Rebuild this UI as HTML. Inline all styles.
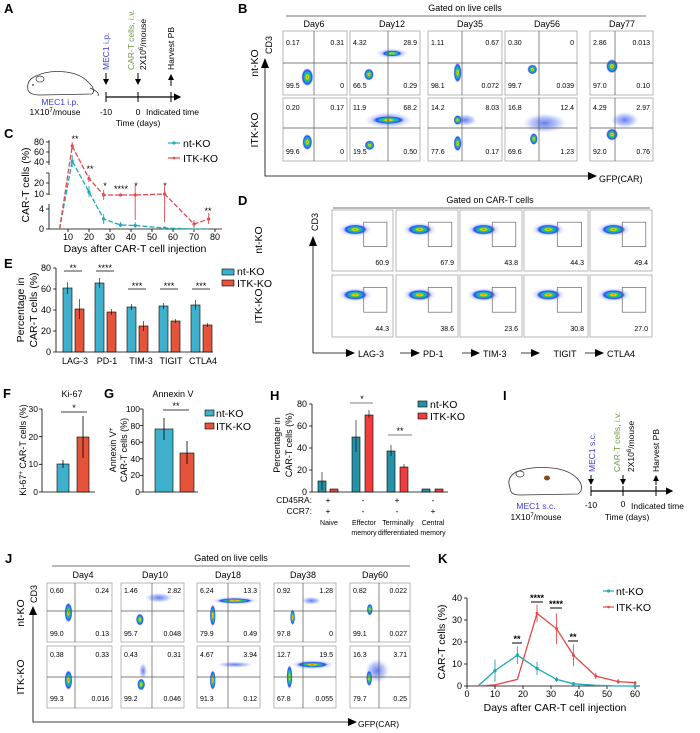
<!DOCTYPE html>
<html><head><meta charset="utf-8"><style>
html,body{margin:0;padding:0;background:#fff}
svg{display:block;font-family:"Liberation Sans",Arial,sans-serif}
.L{font-weight:bold;font-size:13px}
.n{font-size:7px}
.t{font-size:8.5px}
.s{font-size:9px}
.m{font-size:10.5px}
</style></head><body>
<svg id="sv" width="700" height="733" viewBox="0 0 700 733" xmlns="http://www.w3.org/2000/svg">
<defs>
<radialGradient id="bl"><stop offset="0" stop-color="#e83a00"/><stop offset=".18" stop-color="#f2e000"/><stop offset=".38" stop-color="#2fc24a"/><stop offset=".58" stop-color="#12a4e4"/><stop offset=".78" stop-color="#2a46f0"/><stop offset="1" stop-color="#8090ff" stop-opacity="0"/></radialGradient>
<radialGradient id="lb"><stop offset="0" stop-color="#3050e8" stop-opacity=".75"/><stop offset=".6" stop-color="#5a78f0" stop-opacity=".4"/><stop offset="1" stop-color="#a0b0ff" stop-opacity="0"/></radialGradient>
<marker id="ar" markerWidth="6" markerHeight="6" refX="5" refY="3" orient="auto"><path d="M0,0L6,3L0,6z" fill="#000"/></marker>
</defs>
<g id="shapes"></g>

<!-- A -->
<text class="L" x="4" y="13">A</text>
<path d="M28,90 Q26,80 36,76 Q48,70 66,72 Q82,74 90,84 Q96,90 92,94 L40,95 Q30,95 28,90Z M90,88 Q100,92 98,96" fill="none" stroke="#333" stroke-width="0.8"/>
<ellipse cx="40" cy="79" rx="4" ry="3" fill="none" stroke="#333" stroke-width=".7"/>
<circle cx="33" cy="85" r="0.9" fill="#333"/>
<text class="t" x="60" y="105" text-anchor="middle" fill="#3a3ae0">MEC1 i.p.</text>
<text class="t" x="55" y="115" text-anchor="middle">1X10<tspan font-size="6" dy="-3">7</tspan><tspan dy="3">/mouse</tspan></text>
<line x1="106" y1="97" x2="180" y2="97" stroke="#000" stroke-width="1.2" marker-end="url(#ar)"/>
<line x1="106" y1="92" x2="106" y2="102" stroke="#000"/><line x1="138" y1="92" x2="138" y2="102" stroke="#000"/><line x1="171" y1="92" x2="171" y2="102" stroke="#000"/>
<line x1="106" y1="73" x2="106" y2="84" stroke="#000" marker-end="url(#ar)"/>
<line x1="138" y1="73" x2="138" y2="84" stroke="#000" marker-end="url(#ar)"/>
<line x1="171" y1="86" x2="171" y2="75" stroke="#000" marker-end="url(#ar)"/>
<text class="t" transform="translate(109,70) rotate(-90)" fill="#3a3ae0">MEC1 i.p.</text>
<text class="t" transform="translate(134,70) rotate(-90)" fill="#6a9a40">CAR-T cells, i.v.</text>
<text class="t" transform="translate(146,70) rotate(-90)">2X10<tspan font-size="6" dy="-3">6</tspan><tspan dy="3">/mouse</tspan></text>
<text class="t" transform="translate(174,70) rotate(-90)">Harvest PB</text>
<text class="t" x="106" y="115" text-anchor="middle">-10</text>
<text class="t" x="138" y="115" text-anchor="middle">0</text>
<text class="t" x="146" y="115">Indicated time</text>
<text class="t" x="138" y="126" text-anchor="middle">Time (days)</text>

<!-- B -->
<text class="L" x="238" y="13">B</text>
<text class="s" x="465" y="11" text-anchor="middle">Gated on live cells</text>
<line x1="286" y1="16" x2="646" y2="16" stroke="#444" stroke-width=".7"/>
<text class="s" x="314" y="27" text-anchor="middle">Day6</text>
<text class="s" x="392" y="27" text-anchor="middle">Day12</text>
<text class="s" x="470" y="27" text-anchor="middle">Day35</text>
<text class="s" x="547" y="27" text-anchor="middle">Day56</text>
<text class="s" x="622" y="27" text-anchor="middle">Day77</text>
<text class="m" transform="translate(258,63) rotate(-90)" text-anchor="middle">nt-KO</text>
<text class="m" transform="translate(258,130) rotate(-90)" text-anchor="middle">ITK-KO</text>
<text class="s" transform="translate(272,45) rotate(-90)" text-anchor="middle">CD3</text>
<polyline points="265,62 265,176 590,176" fill="none" stroke="#000" stroke-width=".8"/>
<path d="M261,68 L265,58 L269,68z M588,172 L597,176 L588,180z" fill="#000"/>
<text class="s" x="599" y="182">GFP(CAR)</text>
<g class="n">
<text x="286" y="45">0.17</text><text x="344" y="45" text-anchor="end">0.31</text><text x="286" y="88">99.5</text><text x="344" y="88" text-anchor="end">0</text>
<text x="353" y="45">4.32</text><text x="417" y="45" text-anchor="end">28.9</text><text x="353" y="88">66.5</text><text x="417" y="88" text-anchor="end">0.29</text>
<text x="431" y="45">1.11</text><text x="499" y="45" text-anchor="end">0.67</text><text x="431" y="88">98.1</text><text x="499" y="88" text-anchor="end">0.072</text>
<text x="508" y="45">0.30</text><text x="574" y="45" text-anchor="end">0</text><text x="508" y="88">99.7</text><text x="574" y="88" text-anchor="end">0.039</text>
<text x="593" y="45">2.86</text><text x="650" y="45" text-anchor="end">0.013</text><text x="593" y="88">97.0</text><text x="650" y="88" text-anchor="end">0.10</text>
<text x="286" y="110">0.20</text><text x="344" y="110" text-anchor="end">0.17</text><text x="286" y="154">99.6</text><text x="344" y="154" text-anchor="end">0</text>
<text x="353" y="110">11.9</text><text x="417" y="110" text-anchor="end">68.2</text><text x="353" y="154">19.5</text><text x="417" y="154" text-anchor="end">0.50</text>
<text x="431" y="110">14.2</text><text x="499" y="110" text-anchor="end">8.03</text><text x="431" y="154">77.6</text><text x="499" y="154" text-anchor="end">0.17</text>
<text x="508" y="110">16.8</text><text x="574" y="110" text-anchor="end">12.4</text><text x="508" y="154">69.6</text><text x="574" y="154" text-anchor="end">1.23</text>
<text x="593" y="110">4.29</text><text x="650" y="110" text-anchor="end">2.97</text><text x="593" y="154">92.0</text><text x="650" y="154" text-anchor="end">0.76</text>
</g>

<!-- C -->
<text class="L" x="4" y="138">C</text>
<g stroke="#000" stroke-width=".8" fill="none">
<path d="M49,140V165 M46,142H49 M46,152H49 M46,162H49"/>
<path d="M49,173V195 M46,173H49 M46,183H49 M46,194H49"/>
<path d="M49,204V229 M46,209H49 M46,229H49"/>
<path d="M49,229H222 M68,229v3 M89,229v3 M110,229v3 M131,229v3 M152,229v3 M173,229v3 M194,229v3 M215,229v3"/>
</g>
<g class="s" text-anchor="end"><text x="44" y="145">80</text><text x="44" y="155">60</text><text x="44" y="165">40</text><text x="44" y="186">20</text><text x="44" y="197">10</text><text x="44" y="212">4</text><text x="44" y="232">0</text></g>
<g class="s" text-anchor="middle"><text x="68" y="240">10</text><text x="89" y="240">20</text><text x="110" y="240">30</text><text x="131" y="240">40</text><text x="152" y="240">50</text><text x="173" y="240">60</text><text x="194" y="240">70</text><text x="215" y="240">80</text></g>
<text class="m" transform="translate(29,185) rotate(-90)" text-anchor="middle">CAR-T cells (%)</text>
<text class="m" x="135" y="252" text-anchor="middle">Days after CAR-T cell injection</text>
<polyline points="59.6,229 72.2,161 89,192 103.7,219 120.5,225 135.2,225.5 164.6,228 194,229 208.7,229" fill="none" stroke="#22a7b8" stroke-width="1.3" stroke-dasharray="5,2"/>
<polyline points="59.6,229 72.2,146 89,178.6 103.7,195 120.5,195 135.2,195 164.6,194 194,224 208.7,219" fill="none" stroke="#e5474a" stroke-width="1.3" stroke-dasharray="5,2"/>
<g stroke="#22a7b8" stroke-width=".9"><path d="M72.2,155V167 M89,186V197 M103.7,214V224 M120.5,222V227 M135.2,222V228"/></g>
<g stroke="#e5474a" stroke-width=".9"><path d="M72.2,142V150 M89,175V182 M103.7,190V200 M135.2,185V220 M164.6,186V222 M194,220V228 M208.7,213V224"/></g>
<g fill="#22a7b8"><circle cx="72.2" cy="161" r="1.6"/><circle cx="89" cy="192" r="1.6"/><circle cx="103.7" cy="219" r="1.6"/><circle cx="120.5" cy="225" r="1.6"/><circle cx="135.2" cy="225.5" r="1.6"/><circle cx="164.6" cy="228" r="1.6"/></g>
<g fill="#e5474a"><circle cx="72.2" cy="146" r="1.6"/><circle cx="89" cy="178.6" r="1.6"/><circle cx="103.7" cy="195" r="1.6"/><circle cx="120.5" cy="195" r="1.6"/><circle cx="135.2" cy="195" r="1.6"/><circle cx="164.6" cy="194" r="1.6"/><circle cx="194" cy="224" r="1.6"/><circle cx="208.7" cy="219" r="1.6"/></g>
<g class="s" text-anchor="middle"><text x="75" y="142">**</text><text x="90" y="172">**</text><text x="105" y="189">*</text><text x="121" y="192">****</text><text x="136" y="189">*</text><text x="165" y="189">*</text><text x="208" y="214">**</text></g>
<line x1="168" y1="143" x2="180" y2="143" stroke="#22a7b8" stroke-width="1.2"/><circle cx="174" cy="143" r="1.6" fill="#22a7b8"/>
<line x1="168" y1="158" x2="180" y2="158" stroke="#e5474a" stroke-width="1.2"/><circle cx="174" cy="158" r="1.3" fill="#e5474a"/>
<text class="m" x="183" y="147">nt-KO</text><text class="m" x="183" y="162">ITK-KO</text>

<!-- D -->
<text class="L" x="238" y="205">D</text>
<text class="s" x="490" y="203" text-anchor="middle">Gated on CAR-T cells</text>
<line x1="333" y1="208" x2="650" y2="208" stroke="#444" stroke-width=".7"/>
<text class="m" transform="translate(262,240) rotate(-90)" text-anchor="middle">nt-KO</text>
<text class="m" transform="translate(262,306) rotate(-90)" text-anchor="middle">ITK-KO</text>
<text class="s" transform="translate(318,222) rotate(-90)" text-anchor="middle">CD3</text>
<polyline points="313,240 313,353 346,353" fill="none" stroke="#000" stroke-width=".8"/>
<path d="M309,246 L313,236 L317,246z" fill="#000"/>
<g stroke="#000" stroke-width=".8"><path d="M400,353H412 M462,353H472 M521,353H532 M585,353H596"/></g>
<g fill="#000"><path d="M346,349L355,353L346,357z M411,349L420,353L411,357z M471,349L480,353L471,357z M531,349L540,353L531,357z M595,349L604,353L595,357z"/></g>
<g class="s"><text x="358" y="357">LAG-3</text><text x="423" y="357">PD-1</text><text x="483" y="357">TIM-3</text><text x="565" y="357" text-anchor="middle">TIGIT</text><text x="607" y="357">CTLA4</text></g>
<g class="n" text-anchor="end">
<text x="389" y="265">60.9</text><text x="454" y="265">67.9</text><text x="518" y="265">43.8</text><text x="584" y="265">44.3</text><text x="648" y="265">49.4</text>
<text x="389" y="331">44.3</text><text x="454" y="331">38.6</text><text x="518" y="331">23.6</text><text x="584" y="331">30.8</text><text x="648" y="331">27.0</text>
</g>

<!-- E -->
<text class="L" x="4" y="268">E</text>
<g stroke="#000" stroke-width=".8" fill="none"><path d="M56,268V352H213 M53,268H56 M53,289H56 M53,310H56 M53,331H56 M53,352H56"/></g>
<g class="s" text-anchor="end"><text x="51" y="271">80</text><text x="51" y="292">60</text><text x="51" y="313">40</text><text x="51" y="334">20</text><text x="51" y="355">0</text></g>
<text class="m" transform="translate(24,310) rotate(-90)" text-anchor="middle">Percentage in</text>
<text class="m" transform="translate(37,310) rotate(-90)" text-anchor="middle">CAR-T cells (%)</text>
<g stroke="#000" stroke-width=".6">
<rect x="63" y="288" width="9" height="64" fill="#3fb0cc"/><rect x="75" y="309" width="9" height="43" fill="#e5533a"/>
<rect x="95" y="283" width="9" height="69" fill="#3fb0cc"/><rect x="107" y="312" width="9" height="40" fill="#e5533a"/>
<rect x="127" y="307" width="9" height="45" fill="#3fb0cc"/><rect x="139" y="326" width="9" height="26" fill="#e5533a"/>
<rect x="159" y="306" width="9" height="46" fill="#3fb0cc"/><rect x="171" y="321" width="9" height="31" fill="#e5533a"/>
<rect x="191" y="305" width="9" height="47" fill="#3fb0cc"/><rect x="203" y="325" width="9" height="27" fill="#e5533a"/>
<path d="M67.5,282V294 M79.5,299V319 M99.5,278V288 M111.5,309V315 M131.5,304V310 M143.5,321V331 M163.5,303V309 M175.5,319V323 M195.5,300V310 M207.5,323V327" stroke="#000"/>
<path d="M64,271H82 M96,271H114 M128,289H146 M160,289H178 M192,289H210" stroke="#000" stroke-width=".8"/>
</g>
<g class="s" text-anchor="middle"><text x="73" y="271">**</text><text x="105" y="271">****</text><text x="137" y="289">***</text><text x="169" y="289">***</text><text x="201" y="289">***</text></g>
<g class="s" text-anchor="middle"><text x="75" y="364">LAG-3</text><text x="107" y="364">PD-1</text><text x="141" y="364">TIM-3</text><text x="171" y="364">TIGIT</text><text x="203" y="364">CTLA4</text></g>
<rect x="222" y="269" width="12" height="6" fill="#3fb0cc" stroke="#000" stroke-width=".6"/>
<rect x="222" y="280" width="12" height="6" fill="#e5533a" stroke="#000" stroke-width=".6"/>
<text class="m" x="237" y="275">nt-KO</text><text class="m" x="237" y="287">ITK-KO</text>

<!-- F -->
<text class="L" x="3" y="398">F</text>
<text class="s" x="72" y="397" text-anchor="middle">Ki-67</text>
<g stroke="#000" stroke-width=".8" fill="none"><path d="M42,409V492H95 M39,409H42 M39,436.7H42 M39,464.3H42 M39,492H42"/></g>
<g class="t" text-anchor="end"><text x="38" y="412">30</text><text x="38" y="440">20</text><text x="38" y="467">10</text><text x="38" y="495">0</text></g>
<rect x="57" y="464" width="12" height="28" fill="#3fb0cc" stroke="#000" stroke-width=".6"/>
<rect x="77" y="437" width="12" height="55" fill="#e5533a" stroke="#000" stroke-width=".6"/>
<path d="M63,460V468 M83,416V458 M61,412H87" stroke="#000" stroke-width=".8"/>
<text class="s" x="74" y="411" text-anchor="middle">*</text>
<text class="s" transform="translate(26,450) rotate(-90)" text-anchor="middle">Ki-67<tspan font-size="6" dy="-3">+</tspan><tspan dy="3"> CAR-T cells (%)</tspan></text>

<!-- G -->
<text class="L" x="104" y="398">G</text>
<text class="s" x="173" y="397" text-anchor="middle">Annexin V</text>
<g stroke="#000" stroke-width=".8" fill="none"><path d="M143,409V492H198 M140,409H143 M140,425.6H143 M140,442.2H143 M140,458.8H143 M140,475.4H143 M140,492H143"/></g>
<g class="t" text-anchor="end"><text x="140" y="412">100</text><text x="140" y="429">80</text><text x="140" y="445">60</text><text x="140" y="462">40</text><text x="140" y="478">20</text><text x="140" y="495">0</text></g>
<rect x="155" y="429" width="18" height="63" fill="#3fb0cc" stroke="#000" stroke-width=".6"/>
<rect x="180" y="453" width="14" height="39" fill="#e5533a" stroke="#000" stroke-width=".6"/>
<path d="M164,418V440 M187,441V464 M163,410H189" stroke="#000" stroke-width=".8"/>
<text class="s" x="176" y="409" text-anchor="middle">**</text>
<text class="s" transform="translate(116,450) rotate(-90)" text-anchor="middle">Annexin V<tspan font-size="6" dy="-3">+</tspan></text>
<text class="s" transform="translate(127,450) rotate(-90)" text-anchor="middle">CAR-T cells (%)</text>
<rect x="205" y="410" width="9" height="6" fill="#3fb0cc" stroke="#000" stroke-width=".6"/>
<rect x="205" y="423" width="9" height="6" fill="#e5533a" stroke="#000" stroke-width=".6"/>
<text class="m" x="216" y="417">nt-KO</text><text class="m" x="216" y="430">ITK-KO</text>

<!-- H -->
<text class="L" x="270" y="400">H</text>
<g stroke="#000" stroke-width=".8" fill="none"><path d="M312,404V492H448 M309,404H312 M309,426H312 M309,448H312 M309,470H312 M309,492H312"/></g>
<g class="s" text-anchor="end"><text x="307" y="407">80</text><text x="307" y="429">60</text><text x="307" y="451">40</text><text x="307" y="473">20</text><text x="307" y="495">0</text></g>
<text class="s" transform="translate(280,445) rotate(-90)" text-anchor="middle">Percentage in</text>
<text class="s" transform="translate(292,445) rotate(-90)" text-anchor="middle">CAR-T cells (%)</text>
<g stroke="#000" stroke-width=".6">
<rect x="318" y="481" width="8" height="11" fill="#2592a8"/><rect x="330" y="489" width="8" height="3" fill="#f03c3c"/>
<rect x="352" y="437" width="8" height="55" fill="#2592a8"/><rect x="365" y="415" width="8" height="77" fill="#f03c3c"/>
<rect x="387" y="451" width="8" height="41" fill="#2592a8"/><rect x="400" y="467" width="8" height="25" fill="#f03c3c"/>
<rect x="422" y="489" width="8" height="3" fill="#2592a8"/><rect x="435" y="489" width="8" height="3" fill="#f03c3c"/>
<path d="M322,472V490 M356,420V452 M369,410V418 M391,445V456 M404,464V468 M350,403H373 M388,435H412"/>
</g>
<g class="s" text-anchor="middle"><text x="362" y="402">*</text><text x="400" y="434">**</text></g>
<rect x="418" y="401" width="9" height="6" fill="#2592a8" stroke="#000" stroke-width=".6"/>
<rect x="418" y="413" width="9" height="6" fill="#f03c3c" stroke="#000" stroke-width=".6"/>
<text class="m" x="430" y="408">nt-KO</text><text class="m" x="430" y="420">ITK-KO</text>
<g class="t"><text x="312" y="503" text-anchor="end">CD45RA:</text><text x="312" y="514" text-anchor="end">CCR7:</text></g>
<g class="t" text-anchor="middle"><text x="328" y="503">+</text><text x="363" y="503">-</text><text x="397" y="503">+</text><text x="433" y="503">-</text>
<text x="328" y="514">+</text><text x="363" y="514">-</text><text x="397" y="514">-</text><text x="433" y="514">+</text></g>
<g font-size="7" text-anchor="middle"><text x="329" y="525">Naive</text><text x="364" y="525">Effector</text><text x="398" y="525">Terminally</text><text x="433" y="525">Central</text>
<text x="364" y="535">memory</text><text x="398" y="535">differentiated</text><text x="433" y="535">memory</text></g>

<!-- I -->
<text class="L" x="503" y="400">I</text>
<path d="M510,488 Q506,478 516,472 Q530,466 552,468 Q572,470 580,482 Q584,490 578,494 L520,495 Q510,495 510,488Z" fill="none" stroke="#333" stroke-width=".8"/>
<ellipse cx="520" cy="474" rx="4" ry="3" fill="none" stroke="#333" stroke-width=".7"/>
<ellipse cx="547" cy="478" rx="3" ry="2.5" fill="#8a4a20"/>
<text class="t" x="536" y="509" text-anchor="middle" fill="#3a3ae0">MEC1 s.c.</text>
<text class="t" x="536" y="520" text-anchor="middle">1X10<tspan font-size="6" dy="-3">7</tspan><tspan dy="3">/mouse</tspan></text>
<line x1="591" y1="491" x2="672" y2="491" stroke="#000" stroke-width="1.2" marker-end="url(#ar)"/>
<path d="M591,486V496 M623,486V496 M656,486V496" stroke="#000"/>
<line x1="591" y1="475" x2="591" y2="484" stroke="#000" marker-end="url(#ar)"/>
<line x1="623" y1="475" x2="623" y2="484" stroke="#000" marker-end="url(#ar)"/>
<line x1="656" y1="485" x2="656" y2="476" stroke="#000" marker-end="url(#ar)"/>
<text class="t" transform="translate(595,472) rotate(-90)" fill="#3a3ae0">MEC1 s.c.</text>
<text class="t" transform="translate(620,472) rotate(-90)" fill="#6a9a40">CAR-T cells, i.v.</text>
<text class="t" transform="translate(634,472) rotate(-90)">2X10<tspan font-size="6" dy="-3">6</tspan><tspan dy="3">/mouse</tspan></text>
<text class="t" transform="translate(659,472) rotate(-90)">Harvest PB</text>
<text class="t" x="591" y="508" text-anchor="middle">-10</text>
<text class="t" x="623" y="507" text-anchor="middle">0</text>
<text class="t" x="631" y="509">Indicated time</text>
<text class="t" x="627" y="520" text-anchor="middle">Time (days)</text>

<!-- J -->
<text class="L" x="5" y="563">J</text>
<text class="s" x="231" y="561" text-anchor="middle">Gated on live cells</text>
<line x1="52" y1="566" x2="410" y2="566" stroke="#444" stroke-width=".7"/>
<g class="s" text-anchor="middle"><text x="83" y="578">Day4</text><text x="155" y="578">Day10</text><text x="228" y="578">Day18</text><text x="303" y="578">Day38</text><text x="375" y="578">Day60</text></g>
<text class="m" transform="translate(24,613) rotate(-90)" text-anchor="middle">nt-KO</text>
<text class="m" transform="translate(24,677) rotate(-90)" text-anchor="middle">ITK-KO</text>
<text class="s" transform="translate(37,594) rotate(-90)" text-anchor="middle">CD3</text>
<polyline points="33,612 33,722 350,722" fill="none" stroke="#000" stroke-width=".8"/>
<path d="M29,615 L33,606 L37,615z M348,718 L357,722 L348,726z" fill="#000"/>
<text class="t" x="358" y="727">GFP(CAR)</text>
<g class="n">
<text x="50" y="593">0.60</text><text x="109" y="593" text-anchor="end">0.24</text><text x="50" y="636">99.0</text><text x="109" y="636" text-anchor="end">0.13</text>
<text x="124" y="593">1.46</text><text x="181" y="593" text-anchor="end">2.82</text><text x="124" y="636">95.7</text><text x="181" y="636" text-anchor="end">0.048</text>
<text x="200" y="593">6.24</text><text x="257" y="593" text-anchor="end">13.3</text><text x="200" y="636">79.9</text><text x="257" y="636" text-anchor="end">0.49</text>
<text x="277" y="593">0.92</text><text x="333" y="593" text-anchor="end">1.28</text><text x="277" y="636">97.8</text><text x="333" y="636" text-anchor="end">0</text>
<text x="353" y="593">0.82</text><text x="407" y="593" text-anchor="end">0.022</text><text x="353" y="636">99.1</text><text x="407" y="636" text-anchor="end">0.027</text>
<text x="50" y="657">0.38</text><text x="109" y="657" text-anchor="end">0.33</text><text x="50" y="701">99.3</text><text x="109" y="701" text-anchor="end">0.016</text>
<text x="124" y="657">0.43</text><text x="181" y="657" text-anchor="end">0.31</text><text x="124" y="701">99.2</text><text x="181" y="701" text-anchor="end">0.046</text>
<text x="200" y="657">4.67</text><text x="257" y="657" text-anchor="end">3.94</text><text x="200" y="701">91.3</text><text x="257" y="701" text-anchor="end">0.12</text>
<text x="277" y="657">12.7</text><text x="333" y="657" text-anchor="end">19.5</text><text x="277" y="701">67.8</text><text x="333" y="701" text-anchor="end">0.055</text>
<text x="353" y="657">16.3</text><text x="407" y="657" text-anchor="end">3.71</text><text x="353" y="701">79.7</text><text x="407" y="701" text-anchor="end">0.25</text>
</g>

<!-- K -->
<text class="L" x="438" y="563">K</text>
<g stroke="#000" stroke-width=".8" fill="none"><path d="M467,598V686H640 M464,598H467 M464,620H467 M464,642H467 M464,664H467 M464,686H467 M467,686v3 M495,686v3 M523,686v3 M551,686v3 M579,686v3 M607,686v3 M635,686v3"/></g>
<g class="s" text-anchor="end"><text x="462" y="601">40</text><text x="462" y="623">30</text><text x="462" y="645">20</text><text x="462" y="667">10</text><text x="462" y="689">0</text></g>
<g class="s" text-anchor="middle"><text x="467" y="697">0</text><text x="495" y="697">10</text><text x="523" y="697">20</text><text x="551" y="697">30</text><text x="579" y="697">40</text><text x="607" y="697">50</text><text x="635" y="697">60</text></g>
<text class="m" transform="translate(445,642) rotate(-90)" text-anchor="middle">CAR-T cells (%)</text>
<text class="m" x="555" y="711" text-anchor="middle">Days after CAR-T cell injection</text>
<polyline points="478,686 495,670.6 517.4,655.2 537,668.4 556.6,679.4 573.4,683.8 595.8,685.3 618.2,686 635,686" fill="none" stroke="#22a7b8" stroke-width="1.3"/>
<polyline points="478,686 495,684.9 517.4,679.4 537,613.4 556.6,628.8 573.4,655.2 595.8,676.1 618.2,681.6 635,682.7" fill="none" stroke="#e5474a" stroke-width="1.3"/>
<g stroke="#22a7b8" stroke-width=".9"><path d="M495,659.6V681.6 M517.4,646.4V664 M537,661.8V675 M556.6,677V682"/></g>
<g stroke="#e5474a" stroke-width=".9"><path d="M537,604.6V622.2 M556.6,613.4V644.2 M573.4,644.2V666.2 M595.8,673V679 M618.2,679V684"/></g>
<g fill="#22a7b8"><circle cx="495" cy="670.6" r="1.7"/><circle cx="517.4" cy="655.2" r="1.7"/><circle cx="537" cy="668.4" r="1.7"/><circle cx="556.6" cy="679.4" r="1.7"/><circle cx="573.4" cy="683.8" r="1.7"/><circle cx="635" cy="686" r="1.7"/></g>
<g fill="#e5474a"><circle cx="537" cy="613.4" r="1.5"/><circle cx="556.6" cy="628.8" r="1.5"/><circle cx="573.4" cy="655.2" r="1.5"/><circle cx="595.8" cy="676.1" r="1.5"/><circle cx="618.2" cy="681.6" r="1.5"/><circle cx="635" cy="682.7" r="1.5"/></g>
<g class="s" text-anchor="middle" font-weight="bold"><text x="517" y="642">**</text><text x="537" y="601">****</text><text x="556" y="607">****</text><text x="573" y="640">**</text></g>
<path d="M512,643H522 M531,602H543 M550,608H562 M568,641H578" stroke="#000" stroke-width="1"/>
<line x1="603" y1="591" x2="614" y2="591" stroke="#22a7b8" stroke-width="1.2"/><circle cx="608.5" cy="591" r="1.6" fill="#22a7b8"/>
<line x1="603" y1="607" x2="614" y2="607" stroke="#e5474a" stroke-width="1.2"/><circle cx="608.5" cy="607" r="1.3" fill="#e5474a"/>
<text class="m" x="616" y="595">nt-KO</text><text class="m" x="616" y="611">ITK-KO</text>
</svg>
<script>
(function(){
var NS="http://www.w3.org/2000/svg",g=document.getElementById("shapes");
function el(t,a){var e=document.createElementNS(NS,t);for(var k in a)e.setAttribute(k,a[k]);g.appendChild(e);return e;}
function box(x0,x1,y0,y1){el("rect",{x:x0,y:y0,width:x1-x0,height:y1-y0,fill:"#fff",stroke:"#999","stroke-width":.7});}
function blob(x0,x1,y0,y1,b){el("ellipse",{cx:x0+(x1-x0)*b[0],cy:y0+(y1-y0)*b[1],rx:b[2],ry:b[3],fill:b[4]?"url(#lb)":"url(#bl)"});}
function quad(x0,x1,y0,y1,vx,hy){el("line",{x1:vx,y1:y0,x2:vx,y2:y1,stroke:"#555","stroke-width":.7});el("line",{x1:x0,y1:hy,x2:x1,y2:hy,stroke:"#555","stroke-width":.7});}
var bc=[[283,347,314],[350,420,388],[428,502,462],[505,577,539],[590,653,615]],br=[[31,95,63],[98,161,128]];
var bb=[[[[.38,.72,6,9]],[[.6,.35,16,5,1],[.6,.35,10,3],[.27,.68,5,6]],[[.4,.65,4,10]],[[.38,.6,5,5]],[[.35,.55,6,7]]],
[[[.38,.7,5,8]],[[.55,.35,24,8,1],[.55,.35,16,4],[.28,.75,5,5]],[[.5,.35,12,6,1],[.4,.35,4,5],[.4,.72,4,8]],[[.55,.4,22,10,1],[.4,.65,4,6]],[[.55,.35,14,8,1],[.35,.58,6,6]]]];
for(var r=0;r<2;r++)for(var c=0;c<5;c++){var C=bc[c],R=br[r];box(C[0],C[1],R[0],R[1]);bb[r][c].forEach(function(b){blob(C[0],C[1],R[0],R[1],b)});quad(C[0],C[1],R[0],R[1],C[2],R[2]);}
var dc=[[332,393],[396,458],[460,522],[524,588],[590,652]],dr=[[210,271],[275,337]];
for(var r=0;r<2;r++)for(var c=0;c<5;c++){var C=dc[c],R=dr[r],w=C[1]-C[0],h=R[1]-R[0];box(C[0],C[1],R[0],R[1]);
blob(C[0],C[1],R[0],R[1],[.38,.32,17,7,1]);blob(C[0],C[1],R[0],R[1],[.38,.32,12,5]);
el("rect",{x:C[0]+w*.52,y:R[0]+h*.2,width:w*.38,height:h*.4,fill:"none",stroke:"#666","stroke-width":.7});}
var jc=[[47,112,75],[121,184,152],[197,260,228],[274,336,303],[350,410,379]],jr=[[583,642,611],[646,708,677]];
var jb=[[[[.33,.5,4,10]],[[.6,.25,14,5,1],[.3,.62,4,6]],[[.6,.3,24,4,1],[.6,.3,18,2.5],[.25,.55,3,11]],[[.6,.3,10,4,1],[.3,.58,2.5,8]],[[.33,.45,3,6]]],
[[[.33,.55,4,10]],[[.35,.4,4,8,1],[.32,.62,4,6]],[[.6,.3,18,3,1],[.25,.55,3,10]],[[.62,.3,22,5,1],[.62,.3,16,3],[.25,.5,3,12]],[[.45,.4,12,12,1],[.32,.52,3,8]]]];
for(var r=0;r<2;r++)for(var c=0;c<5;c++){var C=jc[c],R=jr[r];box(C[0],C[1],R[0],R[1]);jb[r][c].forEach(function(b){blob(C[0],C[1],R[0],R[1],b)});quad(C[0],C[1],R[0],R[1],C[2],R[2]);}
})();
</script>
</body></html>
